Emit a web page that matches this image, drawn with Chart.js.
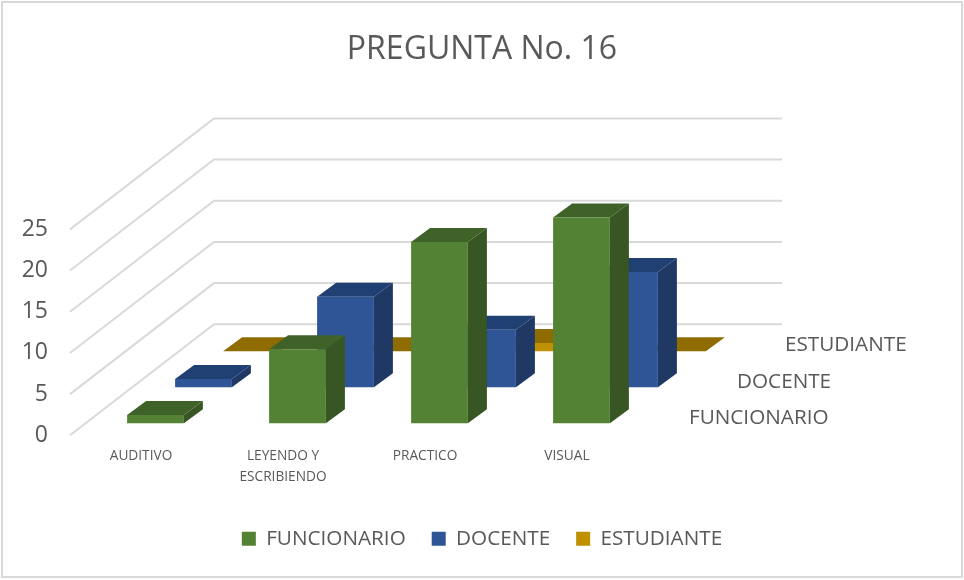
<!DOCTYPE html>
<html>
<head>
<meta charset="utf-8">
<title>PREGUNTA No. 16</title>
<script src="https://cdn.jsdelivr.net/npm/chart.js@4"></script>
<style>
html, body { margin: 0; padding: 0; background: #fff; }
#wrap { width: 964px; height: 580px; }
</style>
</head>
<body>
<div id="wrap"><canvas id="chart"></canvas></div>
<script>
var categories = ['AUDITIVO', ['LEYENDO Y', 'ESCRIBIENDO'], 'PRACTICO', 'VISUAL'];
var funcionario = [1, 9, 22, 25];
var docente = [1, 11, 7, 14];
var estudiante = [0, 0, 1, 0];
var yTicks = [0, 5, 10, 15, 20, 25];

var frontColors = ['#548235', '#2F5597', '#BF9000'];
var topColors = ['#3F6229', '#203F73', '#8F6C00'];
var sideColors = ['#375623', '#1F3864', '#7F6000'];
var textColor = '#595959';
var gridColor = '#D9D9D9';
var fontName = '"Open Sans", sans-serif';

// fake 3d: every series sits on its own row going back into the picture
var wallX = 144, wallY = 111;
var rowX = 48, rowY = 36;
var firstX = 14.5, firstY = 12;
var barDepthX = 19, barDepthY = 14;

var depthPlugin = {
    id: 'depth',
    beforeDraw: function(chart) {
        var c = chart.ctx;
        c.save();
        c.strokeStyle = gridColor;
        c.lineWidth = 2;
        c.strokeRect(2, 2, 960, 575);
        c.restore();
    },
    beforeDatasetsDraw: function(chart) {
        var c = chart.ctx, x = chart.scales.x, y = chart.scales.y;
        c.save();
        c.strokeStyle = gridColor;
        c.lineWidth = 2;
        y.ticks.forEach(function(t, i) {
            var py = y.getPixelForTick(i);
            c.beginPath();
            c.moveTo(x.left, py);
            c.lineTo(x.left + wallX, py - wallY);
            c.lineTo(x.right + wallX, py - wallY);
            c.stroke();
        });
        c.restore();
    },
    beforeDatasetDraw: function(chart, args) {
        var c = chart.ctx, i = args.index;
        c.save();
        c.translate(firstX + rowX * i, -(firstY + rowY * i));
        args.meta.data.forEach(function(bar) {
            var l = bar.x - bar.width / 2, r = bar.x + bar.width / 2;
            c.fillStyle = sideColors[i];
            c.beginPath();
            c.moveTo(r, bar.y);
            c.lineTo(r + barDepthX, bar.y - barDepthY);
            c.lineTo(r + barDepthX, bar.base - barDepthY);
            c.lineTo(r, bar.base);
            c.closePath();
            c.fill();
            c.fillStyle = topColors[i];
            c.beginPath();
            c.moveTo(l, bar.y);
            c.lineTo(l + barDepthX, bar.y - barDepthY);
            c.lineTo(r + barDepthX, bar.y - barDepthY);
            c.lineTo(r, bar.y);
            c.closePath();
            c.fill();
        });
    },
    afterDatasetDraw: function(chart) {
        chart.ctx.restore();
    },
    afterDatasetsDraw: function(chart) {
        var c = chart.ctx, x = chart.scales.x, y = chart.scales.y;
        c.save();
        c.font = '20.7px ' + fontName;
        c.fillStyle = textColor;
        c.textAlign = 'left';
        c.textBaseline = 'middle';
        chart.data.datasets.forEach(function(ds, i) {
            c.fillText(ds.label, x.right + 51 + rowX * i, y.getPixelForValue(0) - 17 - 36.5 * i);
        });
        c.restore();
    }
};

function makeSet(label, values, i) {
    return {
        label: label,
        data: values,
        backgroundColor: frontColors[i],
        clip: false
    };
}

new Chart(document.getElementById('chart'), {
    type: 'bar',
    data: {
        labels: categories,
        datasets: [
            makeSet('FUNCIONARIO', funcionario, 0),
            makeSet('DOCENTE', docente, 1),
            makeSet('ESTUDIANTE', estudiante, 2)
        ]
    },
    plugins: [depthPlugin],
    options: {
        responsive: true,
        maintainAspectRatio: false,
        animation: false,
        grouped: false,
        barPercentage: 0.4,
        categoryPercentage: 1,
        layout: { padding: { left: 0, right: 0, top: 0, bottom: 21 } },
        plugins: {
            title: {
                display: true,
                text: 'PREGUNTA No. 16',
                color: textColor,
                font: { family: fontName, size: 32, weight: 'normal' },
                padding: { top: 31, bottom: 160 }
            },
            legend: {
                position: 'bottom',
                labels: {
                    color: textColor,
                    boxWidth: 14,
                    boxHeight: 14,
                    padding: 26,
                    font: { family: fontName, size: 20.7 }
                }
            },
            tooltip: { enabled: false }
        },
        scales: {
            x: {
                grid: { display: false },
                border: { display: false },
                afterFit: function(axis) { axis.height = 67; },
                ticks: {
                    color: textColor,
                    maxRotation: 0,
                    autoSkip: false,
                    padding: 2,
                    font: { family: fontName, size: 13.7, lineHeight: 1.53 }
                }
            },
            y: {
                min: yTicks[0],
                max: yTicks[yTicks.length - 1],
                grid: { display: false },
                border: { display: false },
                afterFit: function(axis) { axis.width = 70; },
                ticks: {
                    color: textColor,
                    stepSize: yTicks[1] - yTicks[0],
                    padding: 14,
                    font: { family: fontName, size: 23 }
                }
            },
            // empty axis, only keeps the right side of the picture free for the wall and row names
            side: {
                position: 'right',
                grid: { display: false },
                border: { display: false },
                ticks: { display: false },
                afterFit: function(axis) { axis.width = 326; }
            }
        }
    }
});
</script>
</body>
</html>
